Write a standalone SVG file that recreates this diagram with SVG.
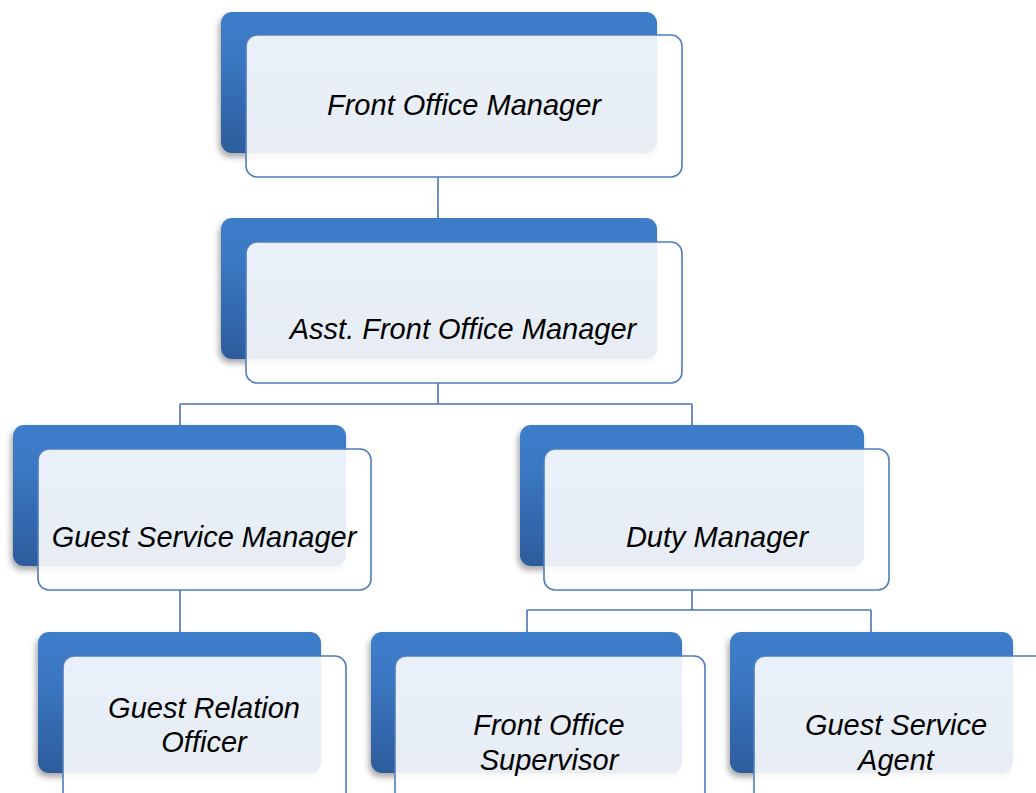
<svg xmlns="http://www.w3.org/2000/svg" width="1036" height="793" viewBox="0 0 1036 793">
<defs>
<linearGradient id="blueG" x1="0" y1="0" x2="0" y2="1">
<stop offset="0" stop-color="#3e7dca"/>
<stop offset="0.3" stop-color="#3b78c4"/>
<stop offset="1" stop-color="#2d5c9c"/>
</linearGradient>
<filter id="sh" x="-10%" y="-10%" width="125%" height="130%">
<feGaussianBlur in="SourceAlpha" stdDeviation="3"/>
<feOffset dx="-2" dy="4" result="b"/>
<feComponentTransfer><feFuncA type="linear" slope="0.35"/></feComponentTransfer>
<feMerge><feMergeNode/><feMergeNode in="SourceGraphic"/></feMerge>
</filter>
</defs>
<style>
.back{fill:url(#blueG);filter:url(#sh)}
.front{fill:#ffffff;fill-opacity:0.89;stroke:#4f7dbf;stroke-width:1.6}
.lbl{font-family:"Liberation Sans",Arial,sans-serif;font-style:italic;font-size:29px;fill:#000;text-anchor:middle}
.conn{fill:none;stroke:#4a74b3;stroke-width:1.6}
</style>
<rect width="1036" height="793" fill="#ffffff"/>
<g id="connectors">
<path class="conn" d="M438,177V218"/>
<path class="conn" d="M438,383V404M180,404H692M180,404V425M692,404V425"/>
<path class="conn" d="M180,590V632"/>
<path class="conn" d="M692,590V610M527,610H871M527,610V632M871,610V632"/>
</g>
<g id="n1">
<rect class="back" x="221" y="12" width="436" height="141" rx="11"/>
<rect class="front" x="246" y="35" width="436" height="142" rx="11"/>
<text class="lbl" x="464" y="115">Front Office Manager</text>
</g>
<g id="n2">
<rect class="back" x="221" y="218" width="436" height="141" rx="11"/>
<rect class="front" x="246" y="242" width="436" height="141" rx="11"/>
<text class="lbl" x="463" y="339">Asst. Front Office Manager</text>
</g>
<g id="n3">
<rect class="back" x="13" y="425" width="333" height="141" rx="11"/>
<rect class="front" x="38" y="449" width="333" height="141" rx="11"/>
<text class="lbl" x="204" y="547">Guest Service Manager</text>
</g>
<g id="n4">
<rect class="back" x="520" y="425" width="344" height="141" rx="11"/>
<rect class="front" x="544" y="449" width="345" height="141" rx="11"/>
<text class="lbl" x="717" y="547">Duty Manager</text>
</g>
<g id="n5">
<rect class="back" x="38" y="632" width="283" height="141" rx="11"/>
<rect class="front" x="63" y="656" width="283" height="150" rx="11"/>
<text class="lbl" x="204" y="718">Guest Relation</text>
<text class="lbl" x="204" y="752">Officer</text>
</g>
<g id="n6">
<rect class="back" x="371" y="632" width="311" height="141" rx="11"/>
<rect class="front" x="395" y="656" width="310" height="150" rx="11"/>
<text class="lbl" x="549" y="735">Front Office</text>
<text class="lbl" x="549" y="770">Supervisor</text>
</g>
<g id="n7">
<rect class="back" x="730" y="632" width="283" height="141" rx="11"/>
<rect class="front" x="754" y="656" width="300" height="150" rx="11"/>
<text class="lbl" x="896" y="735">Guest Service</text>
<text class="lbl" x="896" y="770">Agent</text>
</g>
</svg>
